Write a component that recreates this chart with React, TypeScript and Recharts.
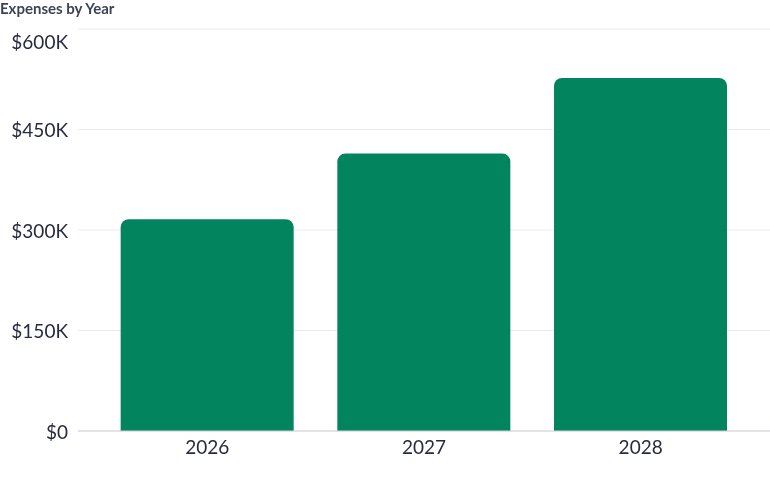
import React from "react";
import { BarChart, Bar, XAxis, YAxis, CartesianGrid } from "recharts";

const years = ["2026", "2027", "2028"];
const expenses = [316000, 414000, 527000];
const yTicks = [0, 150000, 300000, 450000, 600000];

const data = years.map((year, i) => ({ year, expenses: expenses[i] }));

const fmt = (v: number) => (v === 0 ? "$0" : `$${v / 1000}K`);

// top label sits just under its gridline instead of centred on it
function YTick(props: any) {
  const { x, y, payload } = props;
  const isTop = payload.value === yTicks[yTicks.length - 1];
  return (
    <text
      x={x}
      y={y + (isTop ? 13 : 1)}
      dy="0.355em"
      textAnchor="end"
      fontSize={19}
      fill="#262b40"
    >
      {fmt(payload.value)}
    </text>
  );
}

export default function App() {
  return (
    <div
      style={{
        position: "fixed",
        top: 0,
        left: 0,
        width: 770,
        height: 477,
        background: "#fff",
        fontFamily: "Lato, sans-serif",
      }}
    >
      <div
        style={{
          position: "absolute",
          top: 0,
          left: 0,
          fontSize: 15,
          fontWeight: 700,
          color: "#3d4356",
          lineHeight: "17px",
        }}
      >
        Expenses by Year
      </div>
      <BarChart
        width={770}
        height={477}
        data={data}
        margin={{ top: 29, right: 0, bottom: 0, left: 0 }}
        barCategoryGap="10%"
      >
        <CartesianGrid vertical={false} stroke="#ebebf0" />
        <XAxis
          dataKey="year"
          height={46}
          padding={{ left: 21, right: 21 }}
          tickLine={false}
          tickSize={0}
          tickMargin={10}
          axisLine={{ stroke: "#cfd0d8" }}
          tick={{ fontSize: 19, fill: "#262b40" }}
        />
        <YAxis
          width={78}
          domain={[0, 600000]}
          ticks={yTicks}
          axisLine={false}
          tickLine={false}
          tickSize={0}
          tickMargin={10}
          tick={<YTick />}
        />
        <Bar
          dataKey="expenses"
          fill="#02845f"
          radius={[8, 8, 0, 0]}
          isAnimationActive={false}
        />
      </BarChart>
    </div>
  );
}
